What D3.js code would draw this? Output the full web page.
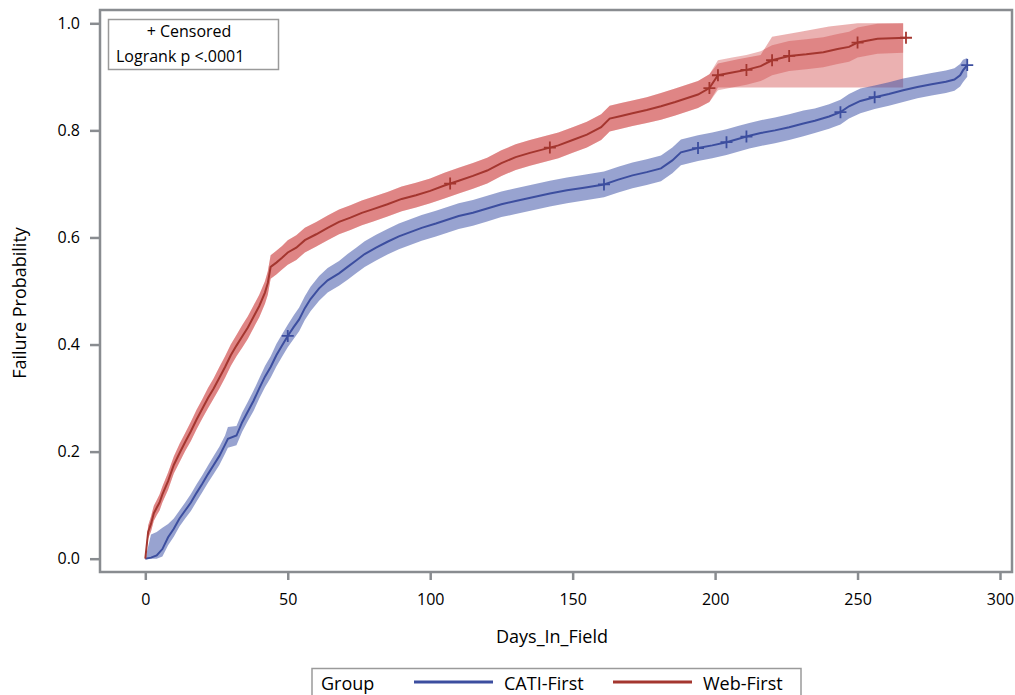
<!DOCTYPE html>
<html>
<head>
<meta charset="utf-8">
<script src="https://cdnjs.cloudflare.com/ajax/libs/d3/7.8.5/d3.min.js"></script>
<style>
body { margin: 0; background: #fff; }
svg text { font-family: "Open Sans", sans-serif; fill: #000; }
</style>
</head>
<body>
<div id="chart"></div>
<script>
// values (failure probability by day)
var cati_days  = [0, 2, 4, 6, 8, 10, 12, 14, 16, 18, 20, 22, 24, 26, 28, 29, 32, 34, 36, 38, 40, 42, 44, 46, 48, 50, 52, 54, 56, 58, 61, 64, 68, 71, 74, 77, 81, 85, 89, 93, 97, 102, 106, 110, 115, 120, 125, 130, 136, 142, 148, 154, 161, 166, 171, 176, 181, 185, 188, 194, 199, 204, 208, 212, 216, 221, 226, 231, 235, 240, 244, 247, 251, 256, 261, 266, 271, 276, 281, 284, 286, 287, 288.5];
var cati_prob  = [0, .002, .006, .018, .04, .056, .075, .09, .105, .123, .14, .158, .175, .192, .213, .224, .23, .255, .275, .295, .318, .34, .358, .38, .398, .416, .432, .447, .468, .485, .505, .52, .533, .545, .557, .569, .581, .592, .602, .61, .618, .626, .633, .64, .646, .654, .662, .668, .675, .682, .688, .693, .699, .708, .716, .722, .729, .744, .759, .767, .772, .778, .784, .79, .795, .8, .806, .813, .818, .826, .834, .845, .855, .862, .868, .875, .881, .886, .891, .895, .903, .912, .922];
var cati_lower = [0, 0, 0, .004, .025, .041, .06, .075, .089, .107, .124, .142, .158, .175, .196, .207, .212, .237, .257, .276, .299, .32, .338, .359, .377, .395, .41, .425, .446, .462, .482, .497, .51, .521, .533, .545, .557, .568, .578, .586, .594, .602, .609, .616, .622, .63, .638, .644, .651, .658, .664, .669, .675, .684, .692, .698, .705, .72, .735, .743, .748, .754, .76, .766, .771, .776, .782, .789, .795, .803, .811, .822, .832, .84, .846, .853, .86, .865, .87, .874, .882, .89, .9];
var cati_upper = [0, .045, .05, .058, .065, .075, .09, .105, .121, .139, .156, .174, .192, .209, .23, .246, .248, .273, .293, .314, .337, .36, .378, .401, .419, .437, .454, .469, .49, .508, .528, .543, .556, .569, .581, .593, .605, .616, .626, .634, .642, .65, .657, .664, .67, .678, .686, .692, .699, .706, .712, .717, .723, .732, .74, .746, .753, .768, .783, .791, .796, .802, .808, .814, .819, .824, .83, .837, .841, .849, .857, .868, .878, .884, .89, .897, .902, .907, .912, .916, .924, .932, .935];
var cati_censored = [50, 161, 194, 204, 211, 244, 256, 288.5];

var web_days  = [0, 1, 2, 3, 4, 5, 6, 8, 10, 12, 14, 16, 18, 20, 22, 24, 26, 28, 30, 32, 34, 36, 38, 40, 42, 43, 44, 46, 48, 50, 53, 56, 60, 64, 68, 72, 76, 80, 85, 90, 95, 100, 105, 110, 115, 120, 125, 130, 135, 140, 145, 150, 155, 160, 163, 167, 171, 176, 181, 186, 190, 194, 198, 201, 206, 211, 216, 220, 226, 232, 238, 243, 247, 250, 257, 267];
var web_prob  = [0, .05, .065, .085, .095, .105, .12, .145, .175, .197, .218, .238, .26, .28, .3, .318, .338, .358, .38, .398, .415, .432, .452, .472, .497, .515, .545, .553, .562, .572, .581, .595, .606, .618, .629, .637, .646, .653, .662, .672, .679, .687, .697, .706, .715, .725, .739, .75, .758, .765, .772, .782, .792, .806, .822, .827, .832, .838, .845, .853, .86, .867, .879, .903, .908, .913, .92, .931, .939, .942, .946, .952, .956, .964, .971, .973];
var web_lower = [0, .038, .051, .071, .081, .09, .105, .129, .159, .18, .201, .22, .242, .262, .281, .299, .318, .338, .36, .378, .394, .411, .431, .451, .476, .493, .523, .531, .54, .549, .558, .572, .583, .595, .606, .614, .623, .63, .639, .649, .656, .664, .673, .682, .691, .701, .715, .726, .734, .741, .748, .758, .768, .782, .798, .803, .808, .814, .82, .828, .835, .842, .853, .875, .88, .885, .892, .903, .911, .914, .918, .924, .928, .936, .943, .945];
var web_upper = [0, .062, .079, .099, .109, .12, .135, .161, .191, .214, .235, .256, .278, .298, .319, .337, .358, .378, .4, .418, .436, .453, .473, .493, .518, .537, .567, .575, .584, .595, .604, .618, .629, .641, .652, .66, .669, .676, .685, .695, .702, .71, .721, .73, .739, .749, .763, .774, .782, .789, .796, .806, .816, .83, .846, .851, .856, .862, .87, .878, .885, .892, .905, .931, .936, .941, .948, .959, .967, .97, .974, .98, .984, .992, .999, 1];
// wider band over the last stretch of Web-First
var web_band2_days  = [201, 208, 216, 220, 230, 240, 250, 266];
var web_band2_lower = [.88, .88, .88, .88, .88, .88, .88, .88];
var web_band2_upper = [.925, .933, .941, .975, .984, .994, 1, 1];
var web_censored = [107, 142, 198, 201, 211, 220, 226, 250, 267];

var x_ticks = [0, 50, 100, 150, 200, 250, 300];
var y_ticks = [0, 0.2, 0.4, 0.6, 0.8, 1.0];
var groups = ["CATI-First", "Web-First"];

function SurvivalPlot(){
  var width = 1015, height = 695;

  function my(selection){
    selection.each(function(){
      var frame = {left: 100, top: 10, right: 1012, bottom: 572};
      var blue = "#3c4e9f", red = "#a4362f", gray = "#898c90";

      var x = d3.scaleLinear().domain([0, 300]).range([145.3, 1000]);
      var y = d3.scaleLinear().domain([0, 1]).range([558.7, 23.3]);

      var svg = d3.select(this).append("svg")
          .attr("width", width)
          .attr("height", height);

      function rows(days, prob, lo, hi){
        return days.map(function(d, i){
          return {day: d, p: prob ? prob[i] : null, lo: lo[i], hi: hi[i]};
        });
      }

      // curve value at a censored day
      function valueAt(days, prob, d){
        return d3.scaleLinear().domain(days).range(prob).clamp(true)(d);
      }

      var area = d3.area()
          .x(function(d){ return x(d.day); })
          .y0(function(d){ return y(d.lo); })
          .y1(function(d){ return y(d.hi); });

      var line = d3.line()
          .x(function(d){ return x(d.day); })
          .y(function(d){ return y(d.p); });

      var web = rows(web_days, web_prob, web_lower, web_upper);
      var cati = rows(cati_days, cati_prob, cati_lower, cati_upper);

      // outer Web-First band: same as inner until it widens
      var web_outer = web.filter(function(d){ return d.day < web_band2_days[0]; })
          .concat(rows(web_band2_days, null, web_band2_lower, web_band2_upper));
      var web_inner = web.slice(0, -1)
          .concat([{day: 266, lo: web_lower[web_lower.length - 1], hi: web_upper[web_upper.length - 1]}]);

      var plot = svg.append("g");

      plot.append("path").datum(web_outer)
          .attr("d", area)
          .attr("fill", "#c82828").attr("fill-opacity", 0.36);
      plot.append("path").datum(web_inner)
          .attr("d", area)
          .attr("fill", "#c82828").attr("fill-opacity", 0.32);
      plot.append("path").datum(cati)
          .attr("d", area)
          .attr("fill", "#3a4fa5").attr("fill-opacity", 0.52);

      plot.append("path").datum(cati)
          .attr("d", line)
          .attr("fill", "none").attr("stroke", blue).attr("stroke-width", 2);
      plot.append("path").datum(web)
          .attr("d", line)
          .attr("fill", "none").attr("stroke", red).attr("stroke-width", 2);

      function marks(days, prob, list, color){
        plot.selectAll(null)
            .data(list)
          .enter().append("path")
            .attr("transform", function(d){ return "translate(" + x(d) + "," + y(valueAt(days, prob, d)) + ")"; })
            .attr("d", "M-6,0H6M0,-6V6")
            .attr("stroke", color).attr("stroke-width", 1.8).attr("fill", "none");
      }
      marks(cati_days, cati_prob, cati_censored, blue);
      marks(web_days, web_prob, web_censored, red);

      // axes
      var yAxis = svg.append("g")
          .attr("transform", "translate(" + frame.left + ",0)")
          .call(d3.axisLeft(y).tickValues(y_ticks).tickFormat(d3.format(".1f")).tickSize(10).tickPadding(10));
      var xAxis = svg.append("g")
          .attr("transform", "translate(0," + frame.bottom + ")")
          .call(d3.axisBottom(x).tickValues(x_ticks).tickSize(8).tickPadding(14));

      [xAxis, yAxis].forEach(function(a){
        a.select(".domain").remove();
        a.selectAll(".tick line").attr("stroke", gray).attr("stroke-width", 2.5);
        a.selectAll(".tick text").attr("font-size", 16).attr("fill", "#000")
            .style("font-family", "'Open Sans', sans-serif");
      });

      svg.append("rect")
          .attr("x", frame.left).attr("y", frame.top)
          .attr("width", frame.right - frame.left).attr("height", frame.bottom - frame.top)
          .attr("fill", "none").attr("stroke", gray).attr("stroke-width", 2.5);

      svg.append("text")
          .attr("x", 552).attr("y", 643)
          .attr("text-anchor", "middle").attr("font-size", 18)
          .text("Days_In_Field");

      svg.append("text")
          .attr("transform", "translate(26,303) rotate(-90)")
          .attr("text-anchor", "middle").attr("font-size", 18)
          .text("Failure Probability");

      // inset
      svg.append("rect")
          .attr("x", 108.5).attr("y", 19.5).attr("width", 170).attr("height", 50)
          .attr("fill", "#fff").attr("stroke", "#9a9a9a").attr("stroke-width", 1.5);
      svg.append("text")
          .attr("x", 189).attr("y", 37).attr("text-anchor", "middle").attr("font-size", 16)
          .text("+ Censored");
      svg.append("text")
          .attr("x", 116).attr("y", 62).attr("font-size", 16)
          .text("Logrank p <.0001");

      // legend
      var legend = svg.append("g");
      legend.append("rect")
          .attr("x", 312).attr("y", 668.5).attr("width", 489).attr("height", 40)
          .attr("fill", "#fff").attr("stroke", "#9a9a9a").attr("stroke-width", 1.5);
      legend.append("text").attr("x", 321).attr("y", 690).attr("font-size", 18).text("Group");
      var items = [{name: groups[0], color: blue, x0: 414}, {name: groups[1], color: red, x0: 613}];
      items.forEach(function(it){
        legend.append("line")
            .attr("x1", it.x0).attr("x2", it.x0 + 79).attr("y1", 682).attr("y2", 682)
            .attr("stroke", it.color).attr("stroke-width", 3);
        legend.append("text").attr("x", it.x0 + 90).attr("y", 690).attr("font-size", 18).text(it.name);
      });
    });
  }

  my.width = function(value){
    if(!arguments.length) return width;
    width = value;
    return my;
  };

  my.height = function(value){
    if(!arguments.length) return height;
    height = value;
    return my;
  };

  return my;
}

d3.select("#chart").call(SurvivalPlot());
</script>
</body>
</html>
